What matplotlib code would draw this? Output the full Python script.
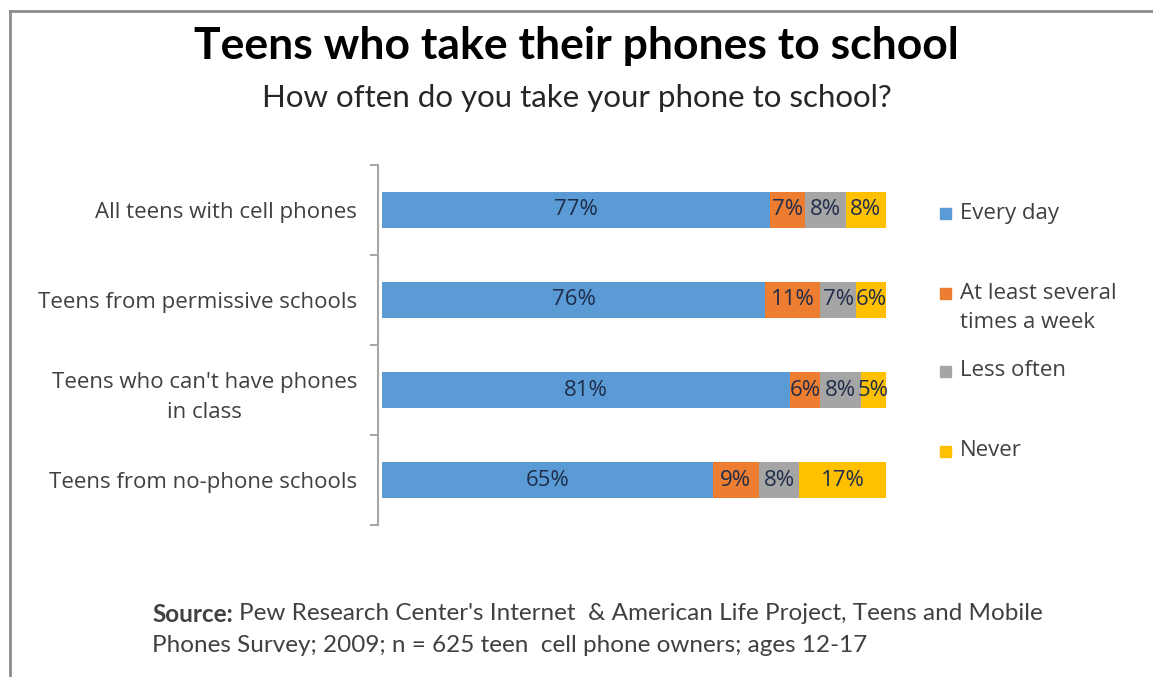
import matplotlib
matplotlib.use("Agg")
import matplotlib.pyplot as plt
from matplotlib.lines import Line2D
from matplotlib.patches import Rectangle
import numpy as np

categories = [
    "All teens with cell phones",
    "Teens from permissive schools",
    "Teens who can't have phones\nin class",
    "Teens from no-phone schools",
]
series_names = ["Every day", "At least several\ntimes a week", "Less often", "Never"]
every_day = [77, 76, 81, 65]
several_week = [7, 11, 6, 9]
less_often = [8, 7, 8, 8]
never = [8, 6, 5, 17]
colors = ["#5B9BD5", "#ED7D31", "#A5A5A5", "#FFC000"]

TXT = "#404040"
BODY = ["Open Sans", "DejaVu Sans"]
HEAD = ["Lato", "DejaVu Sans"]
plt.rcParams["font.family"] = BODY

fig = plt.figure(figsize=(11.53, 6.77), dpi=100)
ax = fig.add_axes([0.3278, 0.2245, 0.4406, 0.5318])

# 100% stacked: each row is scaled to its own total (row 4 sums to 99)
values = np.array([every_day, several_week, less_often, never], dtype=float)
shares = values / values.sum(axis=0) * 100
y = np.arange(len(categories))
left = np.zeros(len(categories))
for raw, sh, col in zip(values, shares, colors):
    ax.barh(y, sh, left=left, height=0.4, color=col, edgecolor="none")
    for yi in range(len(categories)):
        ax.text(left[yi] + sh[yi] / 2, yi, f"{raw[yi]:.0f}%", ha="center", va="center",
                fontsize=16, color="#1F2D4A")
    left += sh

ax.set_xlim(-0.8, 100)
ax.set_ylim(3.5, -0.5)
ax.set_xticks([])
for s in ["top", "right", "bottom"]:
    ax.spines[s].set_visible(False)
ax.spines["left"].set_color("#A6A6A6")
ax.spines["left"].set_linewidth(1.5)
ax.set_yticks(y)
ax.set_yticklabels(categories, fontsize=16, color=TXT, ha="right", multialignment="center",
                   linespacing=1.6)
ax.tick_params(axis="y", which="major", length=0, pad=15)
ax.set_yticks(np.arange(-0.5, 4.0, 1.0), minor=True)
ax.tick_params(axis="y", which="minor", length=6, width=1.5, color="#A6A6A6")

# legend drawn by hand to keep Excel-like spacing (square sits on the first line)
leg_y = [214, 308, 371, 451]
line_gap = 30
for name, col, ly in zip(series_names, colors, leg_y):
    n = name.count("\n") + 1
    sq = ly - (n - 1) * line_gap / 2
    fig.patches.append(Rectangle((940 / 1153, 1 - (sq + 5.5) / 677), 11 / 1153, 11 / 677,
                                 transform=fig.transFigure, color=col))
    fig.text(960 / 1153, 1 - ly / 677, name, fontsize=16, color=TXT, va="center",
             linespacing=1.5)

fig.text(0.5, 1 - 46 / 677, "Teens who take their phones to school", ha="center", va="center",
         fontsize=32, fontweight="bold", color="black", family=HEAD)
fig.text(0.5, 1 - 98 / 677, "How often do you take your phone to school?", ha="center", va="center",
         fontsize=22.5, color="#262626", family=HEAD)

# source note: bold lead-in, rest of the line placed right after it
src = fig.text(152 / 1153, 1 - 614 / 677, "Source:", fontsize=17.5, fontweight="bold", color=TXT,
               va="center", family=HEAD)
fig.canvas.draw()
bb = src.get_window_extent(fig.canvas.get_renderer())
fig.text((bb.x1 + 6) / 1153, 1 - 614 / 677,
         "Pew Research Center's Internet  & American Life Project, Teens and Mobile",
         fontsize=17.5, color=TXT, va="center", family=HEAD)
fig.text(152 / 1153, 1 - 645 / 677, "Phones Survey; 2009; n = 625 teen  cell phone owners; ages 12-17",
         fontsize=17.5, color=TXT, va="center", family=HEAD)

# thin frame on top and left edge
fig.add_artist(Line2D([0.0085, 1.0], [0.984, 0.984], transform=fig.transFigure, color="#8C8C8C", lw=2))
fig.add_artist(Line2D([0.0085, 0.0085], [0.0, 0.984], transform=fig.transFigure, color="#8C8C8C", lw=2))

fig.savefig("out.png", dpi=100)
